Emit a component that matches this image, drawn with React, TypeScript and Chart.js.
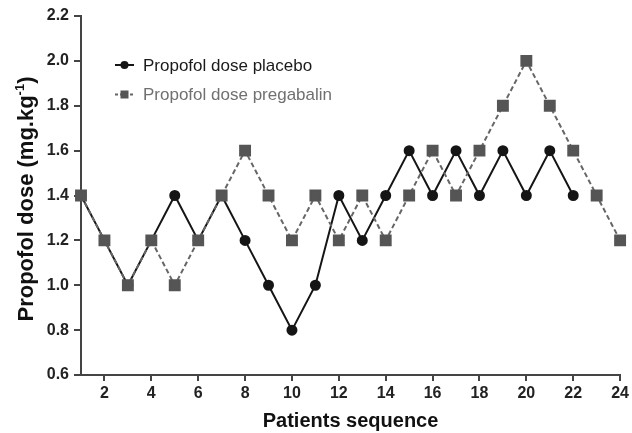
import React, { useEffect, useRef } from "react";
import { Chart, registerables } from "chart.js";

Chart.register(...registerables);

const patients = [1,2,3,4,5,6,7,8,9,10,11,12,13,14,15,16,17,18,19,20,21,22,23,24];
const placebo = [1.4,1.2,1.0,1.2,1.4,1.2,1.4,1.2,1.0,0.8,1.0,1.4,1.2,1.4,1.6,1.4,1.6,1.4,1.6,1.4,1.6,1.4];
const pregabalin = [1.4,1.2,1.0,1.2,1.0,1.2,1.4,1.6,1.4,1.2,1.4,1.2,1.4,1.2,1.4,1.6,1.4,1.6,1.8,2.0,1.8,1.6,1.4,1.2];
const xTicks = [2,4,6,8,10,12,14,16,18,20,22,24];
const yTicks = [0.6,0.8,1.0,1.2,1.4,1.6,1.8,2.0,2.2];
const seriesNames = ["Propofol dose placebo", "Propofol dose pregabalin"];
const xTitle = "Patients sequence";
const yTitleMain = "Propofol dose (mg.kg";
const yTitleSup = "-1";
const yTitleEnd = ")";

const FONT = "'Liberation Sans', Arial, sans-serif";

export default function App() {
  const ref = useRef<HTMLCanvasElement | null>(null);
  useEffect(() => {
    const canvas = ref.current;
    if (!canvas) return;
    const overlay = {
      id: "overlay",
      afterDraw(chart: any) {
        const ctx = chart.ctx;
        const area = chart.chartArea;
        ctx.save();
        // Legend
        const items = chart.data.datasets;
        const lx = 115, lx2 = 134, ty0 = 65, gap = 29.5;
        items.forEach((ds: any, i: number) => {
          const y = ty0 + i * gap;
          ctx.beginPath();
          ctx.strokeStyle = ds.borderColor;
          ctx.lineWidth = ds.borderWidth;
          ctx.setLineDash(ds.borderDash ? [3, 2] : []);
          ctx.moveTo(lx, y);
          ctx.lineTo(lx2, y);
          ctx.stroke();
          ctx.setLineDash([]);
          ctx.fillStyle = ds.pointBackgroundColor;
          const cx = (lx + lx2) / 2;
          if (ds.pointStyle === "rect") {
            const s = 4;
            ctx.fillRect(cx - s, y - s, 2 * s, 2 * s);
          } else {
            ctx.beginPath();
            ctx.arc(cx, y, 4, 0, Math.PI * 2);
            ctx.fill();
          }
          ctx.fillStyle = i === 0 ? "#1a1a1a" : "#707070";
          ctx.font = "17px " + FONT;
          ctx.textAlign = "left";
          ctx.textBaseline = "middle";
          ctx.fillText(ds.label, 143, y + 1);
        });
        // Y title with superscript
        ctx.translate(27, 199);
        ctx.rotate(-Math.PI / 2);
        ctx.fillStyle = "#111";
        const big = "bold 22px " + FONT;
        const small = "bold 13px " + FONT;
        ctx.font = big;
        const w1 = ctx.measureText(yTitleMain).width;
        const w3 = ctx.measureText(yTitleEnd).width;
        ctx.font = small;
        const w2 = ctx.measureText(yTitleSup).width;
        const total = w1 + w2 + w3;
        let x = -total / 2;
        ctx.textAlign = "left";
        ctx.textBaseline = "middle";
        ctx.font = big;
        ctx.fillText(yTitleMain, x, 0);
        x += w1;
        ctx.font = small;
        ctx.fillText(yTitleSup, x, -7);
        x += w2;
        ctx.font = big;
        ctx.fillText(yTitleEnd, x, 0);
        ctx.restore();
      },
    };
    const chart = new Chart(canvas, {
      type: "line",
      data: {
        datasets: [
          {
            label: seriesNames[0],
            data: placebo.map((v, i) => ({ x: patients[i], y: v })),
            borderColor: "#151515",
            backgroundColor: "#151515",
            pointBackgroundColor: "#151515",
            pointBorderColor: "#151515",
            borderWidth: 2,
            pointStyle: "circle",
            pointRadius: 4.5,
            order: 2,
          },
          {
            label: seriesNames[1],
            data: pregabalin.map((v, i) => ({ x: patients[i], y: v })),
            borderColor: "#666666",
            backgroundColor: "#555555",
            pointBackgroundColor: "#555555",
            pointBorderColor: "#555555",
            borderWidth: 2,
            borderDash: [5, 3],
            pointStyle: "rect",
            pointRadius: 7,
            order: 1,
          },
        ],
      },
      options: {
        responsive: false,
        animation: false,
        events: [],
        layout: { padding: { top: 16, right: 10, left: 0, bottom: 0 } },
        plugins: { legend: { display: false }, tooltip: { enabled: false } },
        elements: { line: { tension: 0 } },
        clip: false as any,
        scales: {
          x: {
            type: "linear",
            min: 1,
            max: 24,
            afterBuildTicks: (s: any) => { s.ticks = xTicks.map((v) => ({ value: v })); },
            afterFit: (s: any) => { s.height = 58; },
            border: { color: "#444", width: 2 },
            grid: { drawOnChartArea: false, tickLength: 6, color: "#444", lineWidth: 2 },
            ticks: { color: "#222", font: { family: FONT, size: 16, weight: "bold" }, padding: 3, maxRotation: 0 },
            title: { display: true, text: xTitle, color: "#111", font: { family: FONT, size: 20, weight: "bold" }, padding: { top: 3, bottom: 0 } },
          },
          y: {
            type: "linear",
            min: 0.6,
            max: 2.2,
            afterBuildTicks: (s: any) => { s.ticks = yTicks.map((v) => ({ value: v })); },
            afterFit: (s: any) => { s.width = 81; },
            border: { color: "#444", width: 2 },
            grid: { drawOnChartArea: false, tickLength: 7, color: "#444", lineWidth: 2 },
            ticks: { color: "#222", font: { family: FONT, size: 16, weight: "bold" }, padding: 5, callback: (v: any) => Number(v).toFixed(1) },
          },
        },
      },
      plugins: [overlay],
    });
    return () => chart.destroy();
  }, []);
  return (
    <div style={{ position: "fixed", left: 0, top: 0, width: 632, height: 433, background: "#fff" }}>
      <canvas ref={ref} width={632} height={433} style={{ display: "block" }} />
    </div>
  );
}
